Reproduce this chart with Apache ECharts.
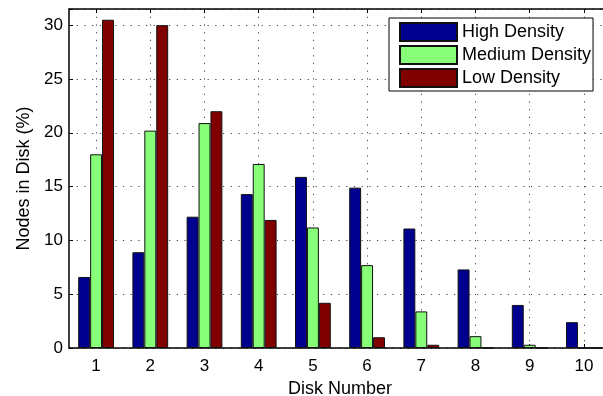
<!DOCTYPE html>
<html>
<head>
<meta charset="utf-8">
<script src="https://cdn.jsdelivr.net/npm/echarts@6/dist/echarts.min.js"></script>
<style>
  html, body { margin: 0; padding: 0; background: #fff; }
  #chart { width: 603px; height: 396px; }
</style>
</head>
<body>
<div id="chart"></div>
<script>
// Share of nodes per disk for three network densities
const disks = ['1', '2', '3', '4', '5', '6', '7', '8', '9', '10'];
const highDensity   = [6.6, 8.9, 12.2, 14.3, 15.9, 14.9, 11.1, 7.3, 4.0, 2.4];
const mediumDensity = [18.0, 20.2, 20.9, 17.1, 11.2, 7.7, 3.4, 1.1, 0.3, 0.0];
const lowDensity    = [30.5, 30.0, 22.0, 11.9, 4.2, 1.0, 0.3, 0.0, 0.0, 0.0];
const yTicks = [0, 5, 10, 15, 20, 25, 30];

const font = 'Liberation Sans, Arial, Helvetica, sans-serif';
const dotted = { color: '#444', width: 1, type: [1.2, 6.5] };

function barSeries(name, values, color) {
  return {
    name: name,
    type: 'bar',
    data: values,
    barWidth: '22%',
    barGap: '0%',
    itemStyle: { color: color, borderColor: '#111', borderWidth: 1 }
  };
}

const chart = echarts.init(document.getElementById('chart'), null, { renderer: 'canvas' });
chart.setOption({
  animation: false,
  backgroundColor: '#fff',
  textStyle: { fontFamily: font },
  grid: { left: 69, right: -8, top: 9, bottom: 48, containLabel: false, outerBoundsMode: 'none' },
  legend: {
    orient: 'vertical',
    left: 389,
    top: 18,
    icon: 'rect',
    itemWidth: 57,
    itemHeight: 18,
    itemGap: 3,
    padding: [4, 2, 3, 10],
    borderColor: '#000',
    borderWidth: 1,
    backgroundColor: '#fff',
    textStyle: { fontFamily: font, fontSize: 18, lineHeight: 18, color: '#000', padding: [0, 0, 0, 0] },
    data: ['High Density', 'Medium Density', 'Low Density']
  },
  xAxis: [
    {
      type: 'category',
      data: disks,
      boundaryGap: true,
      name: 'Disk Number',
      nameLocation: 'middle',
      nameGap: 26,
      nameTextStyle: { fontFamily: font, fontSize: 18, color: '#000' },
      axisLine: { lineStyle: { color: '#000', width: 1.5 } },
      axisTick: { show: true, inside: true, length: 4, alignWithLabel: true, lineStyle: { color: '#000' } },
      axisLabel: { fontFamily: font, fontSize: 17, color: '#000', margin: 10 },
      splitLine: { show: true, alignWithLabel: true, lineStyle: dotted }
    },
    {
      type: 'category',
      data: disks,
      position: 'top',
      boundaryGap: true,
      axisLine: { lineStyle: { color: '#000', width: 1.5 } },
      axisTick: { show: true, inside: true, length: 4, alignWithLabel: true, lineStyle: { color: '#000' } },
      axisLabel: { show: false },
      splitLine: { show: false }
    }
  ],
  yAxis: {
    type: 'value',
    min: 0,
    max: 31.5,
    interval: 5,
    name: 'Nodes in Disk (%)',
    nameLocation: 'middle',
    nameGap: 33,
    nameTextStyle: { fontFamily: font, fontSize: 18, color: '#000' },
    axisLine: { show: true, lineStyle: { color: '#000', width: 1.5 } },
    axisTick: { show: true, inside: true, length: 4, lineStyle: { color: '#000' } },
    axisLabel: {
      fontFamily: font, fontSize: 17, color: '#000', margin: 6,
      formatter: v => (yTicks.indexOf(v) >= 0 ? String(v) : '')
    },
    splitLine: { show: true, lineStyle: dotted }
  },
  series: [
    barSeries('High Density', highDensity, '#00008f'),
    barSeries('Medium Density', mediumDensity, '#88ff78'),
    barSeries('Low Density', lowDensity, '#800000')
  ]
});
</script>
</body>
</html>
